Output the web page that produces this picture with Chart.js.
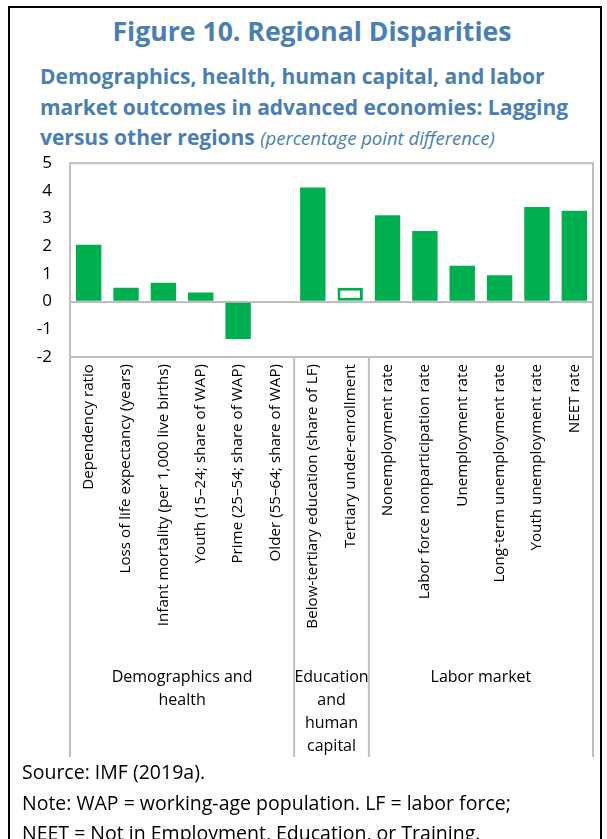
<!DOCTYPE html>
<html>
<head>
<meta charset="utf-8">
<title>Figure 10. Regional Disparities</title>
<script src="https://cdn.jsdelivr.net/npm/chart.js@4"></script>
<style>
  html, body { margin: 0; padding: 0; background: #fff; }
  body { width: 607px; height: 839px; position: relative; overflow: hidden; font-family: "Open Sans", "Noto Sans", sans-serif; }
  #frame { position: absolute; left: 8px; top: 6px; width: 590px; height: 900px; border-left: 2px solid #000; border-top: 2px solid #000; border-right: 2px solid #000; }
  #title { position: absolute; left: 0; top: 13px; width: 624px; text-align: center; color: #4a7eb5; font-weight: bold; font-size: 26.6px; }
  #subtitle { position: absolute; left: 40px; top: 61px; width: 535px; color: #4a7eb5; font-weight: bold; font-size: 21px; line-height: 30.5px; }
  #subtitle i { font-weight: normal; font-size: 18.5px; }
  #chartBox { position: absolute; left: 0; top: 135px; width: 607px; height: 624px; }
  #notes { position: absolute; left: 22px; top: 757px; font-size: 19.5px; line-height: 30.5px; color: #000; white-space: nowrap; }
</style>
</head>
<body>
<div id="frame"></div>
<div id="title">Figure 10. Regional Disparities</div>
<div id="subtitle">Demographics, health, human capital, and labor market outcomes in advanced economies: Lagging versus other regions <i>(percentage point difference)</i></div>
<div id="chartBox"><canvas id="regionChart"></canvas></div>
<div id="notes">
  Source: IMF (2019a).<br>
  Note: WAP = working-age population. LF = labor force;<br>
  NEET = Not in Employment, Education, or Training.
</div>
<script>
// categories, in the order they appear on the axis
const categories = [
  'Dependency ratio',
  'Loss of life expectancy (years)',
  'Infant mortality (per 1,000 live births)',
  'Youth (15\u201324; share of WAP)',
  'Prime (25\u201354; share of WAP)',
  'Older (55\u201364; share of WAP)',
  'Below-tertiary education (share of LF)',
  'Tertiary under-enrollment',
  'Nonemployment rate',
  'Labor force nonparticipation rate',
  'Unemployment rate',
  'Long-term unemployment rate',
  'Youth unemployment rate',
  'NEET rate'
];
// percentage point difference, lagging vs other regions
const gapValues = [2.05, 0.5, 0.68, 0.33, -1.35, 0, 4.12, 0.5, 3.12, 2.55, 1.3, 0.95, 3.42, 3.28];
// bars that are drawn hollow
const hollowBars = [false, false, false, false, false, false, false, true, false, false, false, false, false, false];
// groups under the axis: first and last category index, label lines
const groupNames = [['Demographics and', 'health'], ['Education', 'and', 'human', 'capital'], ['Labor market']];
const groupFirst = [0, 6, 8];
const groupLast = [5, 7, 13];
const yTicks = [5, 4, 3, 2, 1, 0, -1, -2];

const green = '#00b050';
const lineGray = '#bfbfbf';
const fontFam = '"Open Sans", "Noto Sans", sans-serif';

// box round the plot, group separators and group names
const groupBoxes = {
  id: 'groupBoxes',
  afterDraw(chart) {
    const ctx = chart.ctx;
    const area = chart.chartArea;
    const x = chart.scales.x;
    const boxBottom = area.bottom + 400;
    ctx.save();
    ctx.strokeStyle = lineGray;
    ctx.lineWidth = 2;
    ctx.strokeRect(area.left, area.top, area.right - area.left, area.bottom - area.top);
    const half = (x.getPixelForValue(1) - x.getPixelForValue(0)) / 2;
    const edges = [x.getPixelForValue(0) - half];
    groupLast.forEach(i => edges.push(x.getPixelForValue(i) + half));
    ctx.beginPath();
    edges.forEach(e => {
      ctx.moveTo(e, area.bottom);
      ctx.lineTo(e, boxBottom);
    });
    ctx.stroke();
    ctx.fillStyle = '#000';
    ctx.font = '16px ' + fontFam;
    ctx.textAlign = 'center';
    ctx.textBaseline = 'middle';
    groupNames.forEach((lines, g) => {
      const cx = (x.getPixelForValue(groupFirst[g]) + x.getPixelForValue(groupLast[g])) / 2;
      lines.forEach((t, k) => ctx.fillText(t, cx, area.bottom + 320 + k * 23.3));
    });
    ctx.restore();
  }
};

new Chart(document.getElementById('regionChart'), {
  type: 'bar',
  data: {
    labels: categories,
    datasets: [{
      data: gapValues,
      backgroundColor: hollowBars.map(h => h ? '#ffffff' : green),
      borderColor: green,
      borderWidth: hollowBars.map(h => h ? 3 : 0),
      borderSkipped: false,
      categoryPercentage: 1,
      barPercentage: 0.68
    }]
  },
  options: {
    responsive: true,
    maintainAspectRatio: false,
    animation: false,
    layout: { padding: { left: 8, right: 14, top: 0, bottom: 2 } },
    plugins: {
      legend: { display: false },
      tooltip: { enabled: false }
    },
    scales: {
      x: {
        grid: { display: false, drawTicks: false },
        border: { display: false },
        ticks: {
          autoSkip: false,
          minRotation: 90,
          maxRotation: 90,
          padding: 7,
          color: '#000',
          font: { family: fontFam, size: 15.2 }
        },
        afterFit: (scale) => { scale.height = 400; }
      },
      y: {
        min: -2,
        max: 5,
        afterBuildTicks: (scale) => { scale.ticks = yTicks.map(v => ({ value: v })); },
        grid: {
          drawTicks: false,
          color: (c) => c.tick && c.tick.value === 0 ? lineGray : 'rgba(0,0,0,0)',
          lineWidth: 2
        },
        border: { display: false },
        ticks: {
          padding: 18,
          color: '#000',
          font: { family: fontFam, size: 17 }
        },
        afterFit: (scale) => { scale.width = 62; }
      }
    }
  },
  plugins: [groupBoxes]
});
</script>
</body>
</html>
